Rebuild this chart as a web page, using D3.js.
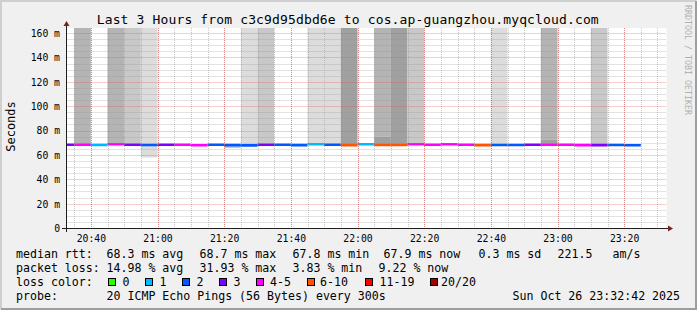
<!DOCTYPE html>
<html lang="en">
  <head>
    <meta charset="utf-8">
    <title>SmokePing - Last 3 Hours</title>
    <style type="text/css">
      body { margin: 0; background: #ffffff; }
      svg { display: block; }
      text { font-family: "DejaVu Sans Mono", monospace; fill: #000; }
    </style>
  </head>
  <body>
    <svg id="chart" width="697" height="310"></svg>

    <script type="text/javascript" src="https://cdnjs.cloudflare.com/ajax/libs/d3/7.8.5/d3.min.js"></script>

    <script type="text/javascript">
    // ===================================
    // DATA
    // ===================================
      // start of each 5 minute slot
      var slotStart = [
        "20:30", "20:35", "20:40", "20:45", "20:50", "20:55",
        "21:00", "21:05", "21:10", "21:15", "21:20", "21:25",
        "21:30", "21:35", "21:40", "21:45", "21:50", "21:55",
        "22:00", "22:05", "22:10", "22:15", "22:20", "22:25",
        "22:30", "22:35", "22:40", "22:45", "22:50", "22:55",
        "23:00", "23:05", "23:10", "23:15", "23:20"
      ];
      // median rtt in ms
      var medianRtt = [
        68.4, 68.4, 68.1, 68.7, 68.4, 68.1,
        68.4, 68.4, 67.9, 68.4, 68.0, 67.8,
        68.4, 68.4, 68.0, 68.7, 68.4, 68.0,
        68.7, 68.1, 68.1, 68.7, 68.4, 68.7,
        68.4, 68.0, 68.2, 68.2, 68.4, 68.4,
        68.4, 68.0, 68.0, 68.2, 67.9
      ];
      // lost pings out of 20
      var lostPings = [
        3, 4, 1, 5, 3, 2,
        3, 4, 4, 2, 2, 2,
        3, 2, 2, 1, 2, 6,
        1, 7, 7, 4, 4, 4,
        4, 6, 2, 2, 3, 5,
        4, 4, 3, 2, 2
      ];
      // smoke bands: slot, low ms, high ms (null = off the top), overlapping layers
      var smokeSlot   = ["20:35", "20:45", "20:50", "20:55", "21:20", "21:25", "21:30", "21:45", "21:50",
                         "21:55", "22:05", "22:05", "22:10", "22:15", "22:40", "22:55", "22:55", "23:10"];
      var smokeLow    = [68.5, 69.0, 68.5, 57.9, 65.6, 67.8, 68.4, 68.7, 68.4,
                         68.0, 74.9, 68.1, 68.1, 68.7, 68.2, 72.4, 68.4, 68.0];
      var smokeHigh   = [null, null, null, null, 68.1, null, null, null, null,
                         null, null, 74.9, null, null, null, null, 72.4, null];
      var smokeLayers = [3, 3, 2, 1, 2, 1, 2, 1, 1,
                         4, 3, 4, 4, 2, 1, 3, 4, 2];

      var lossBins   = ["0", "1", "2", "3", "4-5", "6-10", "11-19", "20/20"];
      var lossLimits = [0, 1, 2, 3, 5, 10, 19, 20];
      var lossColors = ["#26ff00", "#00b8ff", "#0059ff", "#7e00ff", "#ff00ff", "#ff5500", "#ff0000", "#a10000"];

      var yTicks = [0, 20, 40, 60, 80, 100, 120, 140, 160];

      var statsRtt  = ["68.3 ms avg", "68.7 ms max", "67.8 ms min", "67.9 ms now", "0.3 ms sd", "221.5", "am/s"];
      var statsLoss = ["14.98 % avg", "31.93 % max", "3.83 % min", "9.22 % now"];

    // ===================================
    // SETUP
    // ===================================
      var W = 697, H = 310;
      var xLeft = 66.5, xRight = 666.5, yTop = 28, yBottom = 228;
      var parseT = d3.timeParse("%H:%M:%S");
      var parseM = d3.timeParse("%H:%M");

      var x = d3.scaleTime()
        .domain([parseT("20:32:42"), parseT("23:32:42")])
        .range([xLeft, xRight]);
      var y = d3.scaleLinear()
        .domain([0, 164.2])
        .range([yBottom, yTop]);
      var smokeGrey = d3.scaleLinear().domain([1, 4]).range(["#dcdcdc", "#a0a0a0"]);
      var lossColor = d3.scaleThreshold()
        .domain(lossLimits.slice(0, -1).map(function(d) { return d + 0.5; }))
        .range(lossColors);

      var svg = d3.select("#chart");

      // background with rrdtool style frame
      svg.append("rect").attr("width", W).attr("height", H).attr("fill", "#f0f0f0");
      svg.append("path").attr("d", "M1,309 V1 H696").attr("fill", "none")
        .attr("stroke", "#cfcfcf").attr("stroke-width", 2);
      svg.append("path").attr("d", "M1,309 H696 V1").attr("fill", "none")
        .attr("stroke", "#9e9e9e").attr("stroke-width", 2);

      // canvas
      svg.append("rect")
        .attr("x", xLeft).attr("y", yTop)
        .attr("width", xRight - xLeft).attr("height", yBottom - yTop)
        .attr("fill", "#ffffff");

      svg.append("clipPath").attr("id", "clip")
        .append("rect")
        .attr("x", xLeft).attr("y", yTop)
        .attr("width", xRight - xLeft).attr("height", yBottom - yTop);

      var plot = svg.append("g").attr("clip-path", "url(#clip)");

    // ===================================
    // SMOKE
    // ===================================
      var smoke = smokeSlot.map(function(s, i) {
        return { t: parseM(s), lo: smokeLow[i], hi: smokeHigh[i], layers: smokeLayers[i] };
      });
      plot.selectAll("rect.smoke")
        .data(smoke)
        .enter()
        .append("rect")
        .attr("class", "smoke")
        .attr("x", function(d) { return x(d.t); })
        .attr("width", function(d) { return x(d3.timeMinute.offset(d.t, 5)) - x(d.t); })
        .attr("y", function(d) { return d.hi === null ? yTop : y(d.hi); })
        .attr("height", function(d) { return y(d.lo) - (d.hi === null ? yTop : y(d.hi)); })
        .attr("fill", function(d) { return smokeGrey(d.layers); });

    // ===================================
    // GRID
    // ===================================
      var minorX = x.ticks(d3.timeMinute.every(5));
      var majorX = x.ticks(d3.timeMinute.every(20));
      var minorY = d3.range(5, 165, 5).filter(function(d) { return d % 20 !== 0; });
      var gridCol = "rgba(143,143,143,0.5)";
      var mgridCol = "rgba(222,79,79,0.55)";

      var grid = svg.append("g");
      grid.selectAll("line.gx")
        .data(minorX)
        .enter().append("line")
        .attr("x1", function(d) { return Math.round(x(d)) + 0.5; })
        .attr("x2", function(d) { return Math.round(x(d)) + 0.5; })
        .attr("y1", yTop).attr("y2", yBottom)
        .attr("stroke", gridCol).attr("stroke-dasharray", "1,1");
      grid.selectAll("line.gy")
        .data(minorY)
        .enter().append("line")
        .attr("x1", xLeft).attr("x2", xRight)
        .attr("y1", function(d) { return Math.round(y(d)) + 0.5; })
        .attr("y2", function(d) { return Math.round(y(d)) + 0.5; })
        .attr("stroke", gridCol).attr("stroke-dasharray", "1,1");
      grid.selectAll("line.mx")
        .data(majorX)
        .enter().append("line")
        .attr("x1", function(d) { return Math.round(x(d)) + 0.5; })
        .attr("x2", function(d) { return Math.round(x(d)) + 0.5; })
        .attr("y1", yTop).attr("y2", yBottom)
        .attr("stroke", mgridCol).attr("stroke-dasharray", "1,1");
      grid.selectAll("line.my")
        .data(yTicks.slice(1))
        .enter().append("line")
        .attr("x1", xLeft).attr("x2", xRight)
        .attr("y1", function(d) { return Math.round(y(d)) + 0.5; })
        .attr("y2", function(d) { return Math.round(y(d)) + 0.5; })
        .attr("stroke", mgridCol).attr("stroke-dasharray", "1,1");

    // ===================================
    // MEDIAN LINE, coloured by loss
    // ===================================
      var line = d3.line()
        .x(function(p) { return x(p[0]); })
        .y(function(p) { return y(p[1]); });

      var slots = slotStart.map(function(s, i) {
        return { t: parseM(s), med: medianRtt[i], loss: lostPings[i] };
      });
      plot.selectAll("path.median")
        .data(slots)
        .enter()
        .append("path")
        .attr("class", "median")
        .attr("d", function(d) {
          return line([[d.t, d.med], [d3.timeMinute.offset(d.t, 5), d.med]]);
        })
        .attr("fill", "none")
        .attr("stroke", function(d) { return lossColor(d.loss); })
        .attr("stroke-width", 2.6);

    // ===================================
    // AXES
    // ===================================
      var xAxis = svg.append("g")
        .attr("transform", "translate(0," + yBottom + ")")
        .call(d3.axisBottom(x).ticks(d3.timeMinute.every(20))
          .tickFormat(d3.timeFormat("%H:%M")).tickSize(0).tickPadding(0));
      xAxis.select(".domain").remove();
      xAxis.selectAll("text")
        .attr("y", 14).attr("dy", 0)
        .attr("font-family", "DejaVu Sans Mono").attr("font-size", "9.75px");

      var yAxis = svg.append("g")
        .attr("transform", "translate(" + xLeft + ",0)")
        .call(d3.axisLeft(y).tickValues(yTicks)
          .tickFormat(function(d) { return d === 0 ? "0" : d + " m"; })
          .tickSize(0).tickPadding(6.5));
      yAxis.select(".domain").remove();
      yAxis.selectAll("text")
        .attr("dy", "0.35em")
        .attr("font-family", "DejaVu Sans Mono").attr("font-size", "9.75px");

      // axis lines and arrows
      svg.append("line").attr("x1", 62).attr("x2", 670).attr("y1", yBottom + 0.5).attr("y2", yBottom + 0.5)
        .attr("stroke", "#1f1f1f");
      svg.append("line").attr("x1", xLeft).attr("x2", xLeft).attr("y1", yBottom + 4).attr("y2", 23)
        .attr("stroke", "#1f1f1f");
      svg.append("path").attr("d", "M668,225.5 L673,228.5 L668,231.5 Z").attr("fill", "#801f1f");
      svg.append("path").attr("d", "M63.5,26 L66.5,21 L69.5,26 Z").attr("fill", "#801f1f");

    // ===================================
    // TEXTS
    // ===================================
      svg.append("text")
        .attr("x", 347.7).attr("y", 24)
        .attr("text-anchor", "middle")
        .attr("font-size", "13px")
        .attr("textLength", 502)
        .text("Last 3 Hours from c3c9d95dbd6e to cos.ap-guangzhou.myqcloud.com");

      svg.append("text")
        .attr("transform", "translate(15,126.5) rotate(-90)")
        .attr("text-anchor", "middle")
        .attr("font-size", "12px")
        .text("Seconds");

      svg.append("text")
        .attr("transform", "translate(684.5,5) rotate(90)")
        .attr("font-size", "8.3px")
        .style("fill", "#b0b0b0")
        .text("RRDTOOL / TOBI OETIKER");

      var legend = svg.append("g").attr("font-size", "11.6px");
      function put(xp, yp, s) {
        legend.append("text").attr("x", xp).attr("y", yp)
          .attr("xml:space", "preserve").text(s);
      }

      var rttX = [106.5, 199.5, 292.5, 383.5, 478.5, 557.5, 612.5];
      put(16, 258, "median rtt:");
      statsRtt.forEach(function(s, i) { put(rttX[i], 258, s); });

      var lossX = [106.5, 199.5, 292.5, 378.5];
      put(16, 272, "packet loss:");
      statsLoss.forEach(function(s, i) { put(lossX[i], 272, s); });

      put(16, 286, "loss color:");
      var boxX = [108.5, 145.5, 182.5, 219.5, 256.5, 307.5, 365.5, 430.5];
      var labX = [122.5, 159.5, 196.5, 233.5, 270, 320, 379.5, 441];
      lossBins.forEach(function(b, i) {
        legend.append("rect")
          .attr("x", boxX[i]).attr("y", 278.5)
          .attr("width", 7).attr("height", 7)
          .attr("fill", lossColors[i])
          .attr("stroke", "#000").attr("stroke-width", 1);
        put(labX[i], 286, b);
      });

      put(16, 300, "probe:");
      put(106.5, 300, "20 ICMP Echo Pings (56 Bytes) every 300s");
      put(512.5, 300, "Sun Oct 26 23:32:42 2025");
    </script>
  </body>
</html>
